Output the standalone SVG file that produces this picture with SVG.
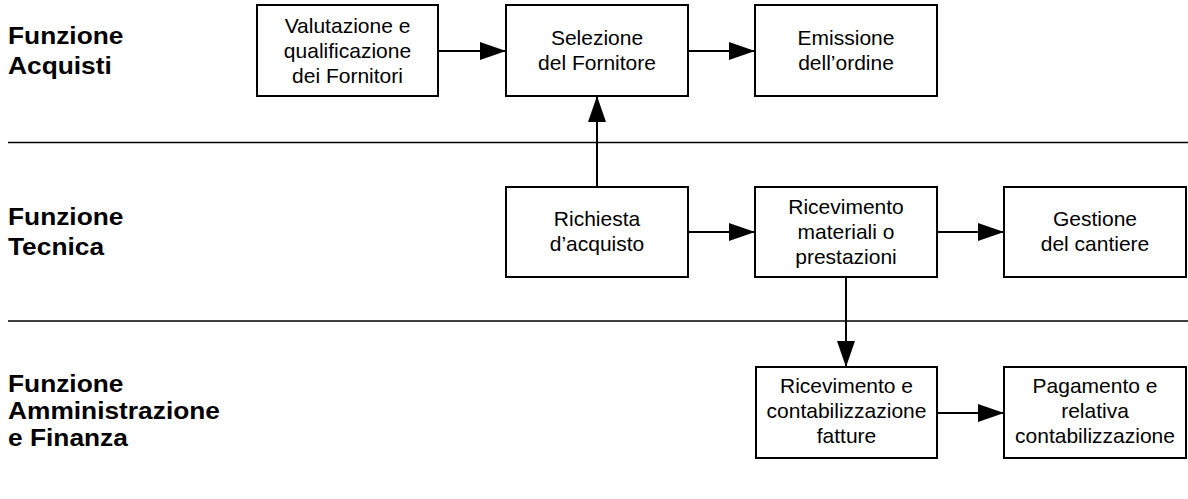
<svg xmlns="http://www.w3.org/2000/svg" width="1188" height="499" viewBox="0 0 1188 499">
<style>
.box{fill:#fff;stroke:#000;stroke-width:2}
.bt{font-family:"Liberation Sans",Arial,sans-serif;font-size:21px;fill:#000;text-anchor:middle}
.lane{font-family:"Liberation Sans",Arial,sans-serif;font-size:23.5px;font-weight:bold;fill:#000}
.sep{stroke:#000;stroke-width:1.5}
.conn{stroke:#000;stroke-width:2;fill:none}
</style>
<defs>
<marker id="ah" markerUnits="userSpaceOnUse" markerWidth="26" markerHeight="18" refX="26" refY="9" orient="auto">
<path d="M0,0 L26,9 L0,18 Z" fill="#000"/>
</marker>
</defs>
<rect width="1188" height="499" fill="#fff"/>
<g id="lanes">
<g transform="translate(8,0) scale(1.12,1)">
<text class="lane" x="0" y="44">Funzione</text>
<text class="lane" x="0" y="74">Acquisti</text>
<text class="lane" x="0" y="225">Funzione</text>
<text class="lane" x="0" y="255">Tecnica</text>
<text class="lane" x="0" y="392">Funzione</text>
<text class="lane" x="0" y="419">Amministrazione</text>
<text class="lane" x="0" y="446">e Finanza</text>
</g>
<line class="sep" x1="8" y1="142.5" x2="1188" y2="142.5"/>
<line class="sep" x1="8" y1="321" x2="1188" y2="321"/>
</g>
<g id="connectors">
<line class="conn" x1="438" y1="51" x2="506" y2="51" marker-end="url(#ah)"/>
<line class="conn" x1="688" y1="51" x2="755" y2="51" marker-end="url(#ah)"/>
<line class="conn" x1="597" y1="187" x2="597" y2="96" marker-end="url(#ah)"/>
<line class="conn" x1="688" y1="232" x2="755" y2="232" marker-end="url(#ah)"/>
<line class="conn" x1="937" y1="232" x2="1004" y2="232" marker-end="url(#ah)"/>
<line class="conn" x1="846" y1="277" x2="846" y2="367" marker-end="url(#ah)"/>
<line class="conn" x1="937" y1="413" x2="1004" y2="413" marker-end="url(#ah)"/>
</g>
<g id="valutazione">
<rect class="box" x="257" y="5" width="181" height="91"/>
<text class="bt" x="347.5" y="33">Valutazione e</text>
<text class="bt" x="347.5" y="58">qualificazione</text>
<text class="bt" x="347.5" y="83">dei Fornitori</text>
</g>
<g id="selezione">
<rect class="box" x="506" y="5" width="182" height="91"/>
<text class="bt" x="597" y="45">Selezione</text>
<text class="bt" x="597" y="70">del Fornitore</text>
</g>
<g id="emissione">
<rect class="box" x="755" y="5" width="182" height="91"/>
<text class="bt" x="846" y="45">Emissione</text>
<text class="bt" x="846" y="70">dell’ordine</text>
</g>
<g id="richiesta">
<rect class="box" x="506" y="187" width="182" height="90"/>
<text class="bt" x="597" y="226">Richiesta</text>
<text class="bt" x="597" y="251">d’acquisto</text>
</g>
<g id="ricevimento-materiali">
<rect class="box" x="755" y="187" width="182" height="90"/>
<text class="bt" x="846" y="214">Ricevimento</text>
<text class="bt" x="846" y="239">materiali o</text>
<text class="bt" x="846" y="264">prestazioni</text>
</g>
<g id="gestione">
<rect class="box" x="1004" y="187" width="182" height="90"/>
<text class="bt" x="1095" y="226">Gestione</text>
<text class="bt" x="1095" y="251">del cantiere</text>
</g>
<g id="ricevimento-fatture">
<rect class="box" x="756" y="367" width="181" height="91"/>
<text class="bt" x="846.5" y="393">Ricevimento e</text>
<text class="bt" x="846.5" y="418">contabilizzazione</text>
<text class="bt" x="846.5" y="443">fatture</text>
</g>
<g id="pagamento">
<rect class="box" x="1004" y="367" width="182" height="91"/>
<text class="bt" x="1095" y="393">Pagamento e</text>
<text class="bt" x="1095" y="418">relativa</text>
<text class="bt" x="1095" y="443">contabilizzazione</text>
</g>
</svg>
